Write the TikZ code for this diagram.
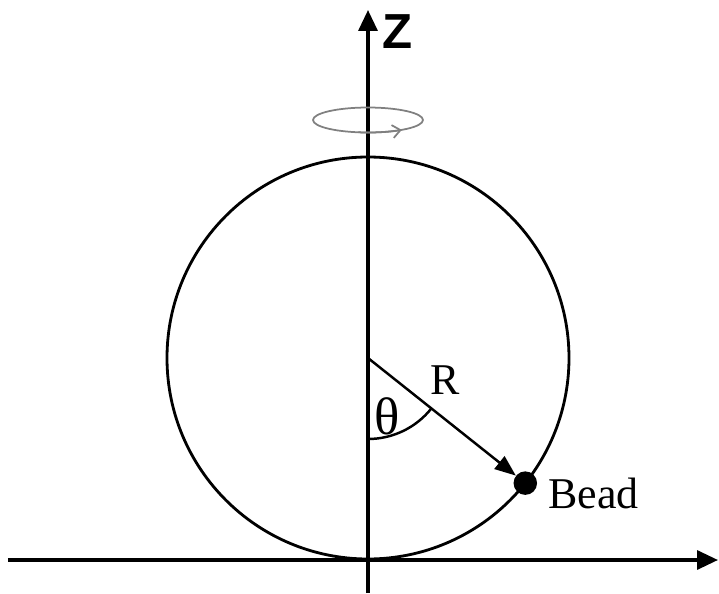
\documentclass[tikz,border=0pt]{standalone}
\usepackage{fontspec}
\setmainfont{Liberation Serif}
\newfontfamily\axisfont{Liberation Sans}
\usetikzlibrary{arrows.meta}

\begin{document}
\begin{tikzpicture}[>={Triangle[length=0.42cm,width=0.38cm]},
    axisline/.style={->, line width=1.9pt},
    textlabel/.style={inner sep=0pt, font=\fontsize{25}{28}\selectfont}]
    \useasboundingbox (-7.36,-4.70) rectangle (7.02,7.16);

    % axes
    \coordinate (xstart) at (-7.20,-4.04);
    \coordinate (xend) at (7.00,-4.04);
    \coordinate (zstart) at (0,-4.70);
    \coordinate (zend) at (0,6.96);
    \draw[axisline] (xstart) -- (xend);
    \draw[axisline] (zstart) -- (zend);
    \node[inner sep=0pt, font=\axisfont\bfseries\fontsize{28}{30}\selectfont] (zlabel) at (0.60,6.52) {Z};

    % rotation about z
    \draw[gray, line width=1pt] (0,4.76) ellipse [x radius=1.10, y radius=0.25];
    \draw[gray, line width=1pt, -{Straight Barb[length=0.16cm,width=0.26cm]}]
        (0,4.76) ++(-100:1.10 and 0.25) arc[start angle=-100, end angle=-52, x radius=1.10, y radius=0.25];

    % hoop and bead
    \coordinate (O) at (0,0);
    \draw[line width=1.6pt] (O) circle (4.02);
    \node[circle, fill, inner sep=0pt, minimum size=0.47cm] (bead) at (-38.5:4.02) {};
    \draw[->, >={Triangle[length=0.42cm,width=0.32cm]}, line width=1.4pt] (O) -- (bead);
    \draw[line width=1.4pt] (0,-1.62) arc[start angle=-90, end angle=-38.5, radius=1.62];

    \node[textlabel] (rlabel) at (1.54,-0.44) {R};
    \node[textlabel, font=\fontsize{30}{32}\selectfont] (thetalabel) at (0.38,-1.16) {θ};
    \node[textlabel, anchor=base west] (beadlabel) at (3.60,-3.00) {Bead};
\end{tikzpicture}
\end{document}
